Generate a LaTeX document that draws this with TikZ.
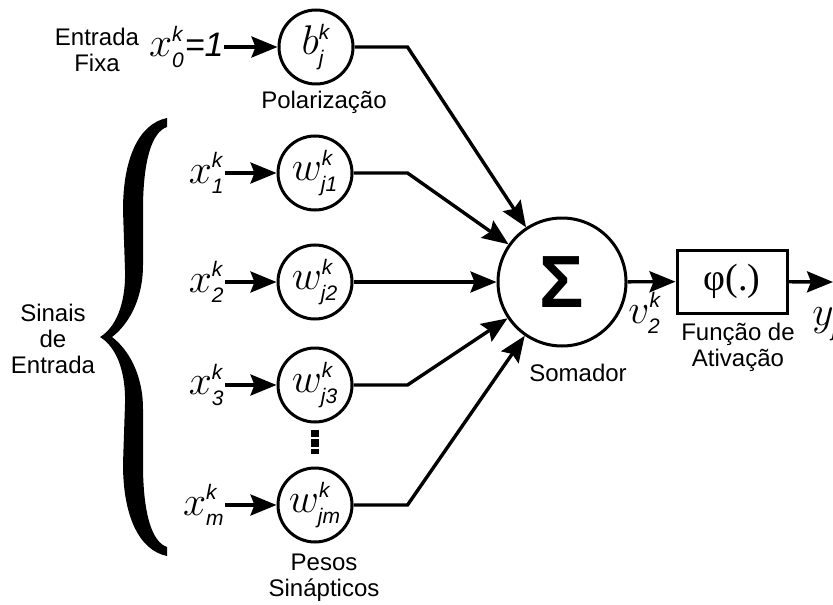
\documentclass[tikz,border=0pt]{standalone}
\usepackage{fontspec}
\setmainfont{Liberation Sans}
\setsansfont{Liberation Sans}
\newfontfamily\serifphi{Liberation Serif}
\usetikzlibrary{arrows.meta, positioning}

\newcommand{\indfont}{\fontsize{10.5}{12}\selectfont\sffamily\itshape}
\newcommand{\sinal}[3]{{\fontsize{20}{24}\selectfont$#1^{\mbox{\indfont #2}}_{\mbox{\indfont #3}}$}}

\begin{document}
\begin{tikzpicture}[x=0.5pt, y=-0.5pt,
  neuron/.style={draw, circle, line width=1.5pt, minimum size=37pt, inner sep=0pt},
  rotulo/.style={font=\fontsize{12}{13}\selectfont, align=center},
  sinalin/.style={anchor=east, inner sep=0pt},
  seta/.style={line width=1.7pt, -{Stealth[length=13pt, width=10.5pt, inset=2pt]}}]
  \useasboundingbox (0,0) rectangle (833,604);

  % entrada fixa e polarizacao
  \node[rotulo] (fixa) at (97,50) {Entrada\\Fixa};
  \node[sinalin] (x0) at (224,47) {\sinal{x}{k}{0}{\fontsize{17}{17}\selectfont\itshape =1}};
  \node[neuron] (b) at (316,47) {\sinal{b}{k}{j}};
  \node[rotulo] (polar) at (324,102) {Polarização};
  \draw[seta] (x0) -- (b);

  % pesos sinapticos
  \foreach \i/\y in {1/173, 2/282, 3/385, m/505} {
    \node[neuron] (w\i) at (315,\y) {\sinal{w}{k}{j\i}};
    \node[sinalin] (x\i) at (225,\y) {\sinal{x}{k}{\i}};
    \draw[seta] (x\i) -- (w\i);
  }
  \draw[line width=4pt, dash pattern=on 3.8pt off 1pt] ([yshift=-3pt]w3.south) -- ([yshift=6.5pt]wm.north);
  \node[rotulo] (pesos) at (324,578) {Pesos\\Sinápticos};

  % chave dos sinais de entrada
  \fill (167,118) .. controls (138,124) and (123,160) .. (123,210)
    -- (125,270) .. controls (126,305) and (115,328) .. (100,337)
    .. controls (115,346) and (126,369) .. (125,404)
    -- (123,464) .. controls (123,514) and (138,550) .. (167,556)
    -- (167,547) .. controls (152,542) and (143,514) .. (143,464)
    -- (143,409) .. controls (143,374) and (128,349) .. (112,337)
    .. controls (128,325) and (143,300) .. (143,265)
    -- (143,210) .. controls (143,160) and (152,132) .. (167,127) -- cycle;
  \node[rotulo] (sinais) at (53,339) {Sinais\\de\\Entrada};

  % somador e funcao de ativacao
  \node[neuron, minimum size=64pt, font=\fontsize{37}{37}\selectfont\bfseries] (soma) at (562,282) {Σ};
  \node[rotulo] (somador) at (578,373) {Somador};
  \node[draw, line width=1.5pt, minimum width=55pt, minimum height=31.5pt, inner sep=0pt,
        font=\serifphi\fontsize{19}{19}\selectfont] (fa) at (732,281.5) {φ(.)};
  \node[rotulo] (funcao) at (738,347) {Função de\\Ativação};
  \node[anchor=west, inner sep=0pt] (v) at (628,313) {\sinal{v}{k}{2}};
  \coordinate (saida) at (833,282);
  \node[anchor=west, inner sep=0pt] (y) at (812,318) {\sinal{y}{k}{j}};

  % ligacoes
  \draw[seta] (b.east) -- ++(53,0) -- (soma);
  \draw[seta] (w1.east) -- ++(54,0) -- (soma);
  \draw[seta] (w2) -- (soma);
  \draw[seta] (w3.east) -- ++(54,0) -- (soma);
  \draw[seta] (wm.east) -- ++(54,0) -- (soma);
  \draw[seta] (soma) -- (fa);
  \draw[seta] (fa) -- (saida);
\end{tikzpicture}
\end{document}
